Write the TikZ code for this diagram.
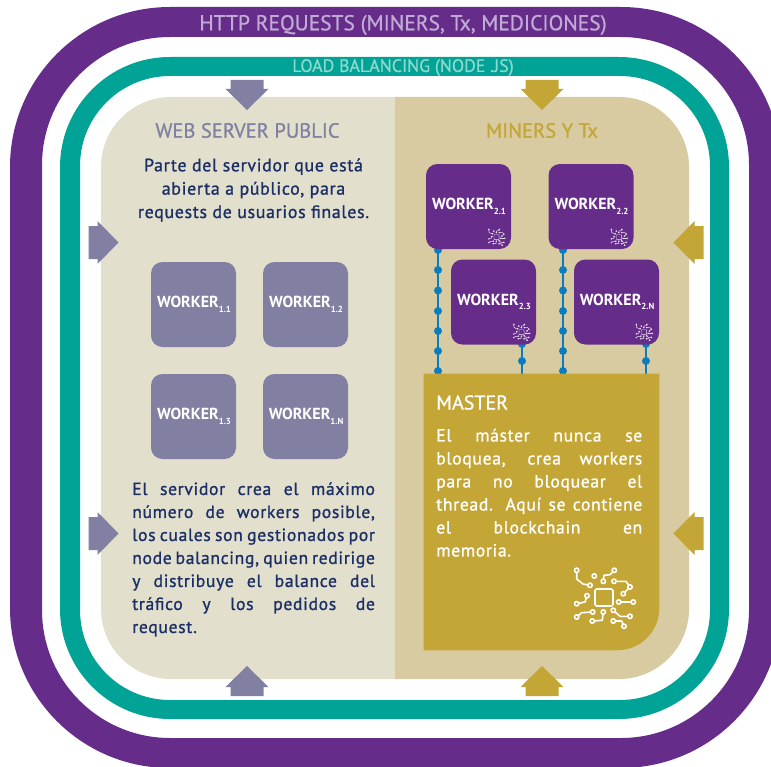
\documentclass[tikz,border=0pt]{standalone}
\usepackage{fontspec}
\setmainfont{PT Sans}
\newfontfamily\fbody[LetterSpace=3.8,FakeBold=1.1]{PT Sans}
\newfontfamily\ftitle[FakeBold=0.8]{PT Sans}
\definecolor{cPurple}{HTML}{652D89}
\definecolor{cTeal}{HTML}{00A396}
\definecolor{cSlate}{HTML}{8280A2}
\definecolor{cGold}{HTML}{C4A637}
\definecolor{cNavy}{HTML}{1B2F66}
\definecolor{cBlue}{HTML}{0A7DBE}
\definecolor{cLeft}{HTML}{E2DFCC}
\definecolor{cRight}{HTML}{D8CBA2}
\definecolor{cLilac}{HTML}{C2AAD6}
\definecolor{cMint}{HTML}{8FD8CE}
\pgfdeclarelayer{back}\pgfdeclarelayer{bus}
\pgfsetlayers{back,bus,main}
\newcommand\fsz[2]{\fontsize{#1}{#2}\selectfont}
\newcommand\wk[1]{\hspace*{0.8pt}{\bfseries WORKER}\raisebox{-3.4pt}{\fsz{6.6}{7}\bfseries #1}}
% justified line of given width
\newcommand\jl[2]{\makebox[#1][s]{#2}}
% arrows: centre, direction sign, colour
\newcommand\arrV[4]{\fill[#4] ({#1-16.5},{#2-15*#3}) -- ({#1+16.5},{#2-15*#3}) -- ({#1+16.5},{#2-6*#3}) -- ({#1+21.5},{#2-6*#3}) -- ({#1},{#2+15*#3}) -- ({#1-21.5},{#2-6*#3}) -- ({#1-16.5},{#2-6*#3}) -- cycle;}
\newcommand\arrH[4]{\fill[#4] ({#1-15*#3},{#2-16.5}) -- ({#1-15*#3},{#2+16.5}) -- ({#1-6*#3},{#2+16.5}) -- ({#1-6*#3},{#2+21.5}) -- ({#1+15*#3},{#2}) -- ({#1-6*#3},{#2-21.5}) -- ({#1-6*#3},{#2-16.5}) -- cycle;}
% chip icon: x, y, unit (pt per icon pixel), line width, colour, fill
\newcommand\chipicon[6]{%
\begin{scope}[shift={(#1,#2)},x=#3pt,y=-#3pt,draw=#5,line width=#4,line join=round,line cap=round]
\draw[rounded corners=#4] (-9,-8) rectangle (9,9);
\draw (-27.3,-26.7) -- (-27.3,-18) -- (-21,-13) -- (-14,-11.7);
\draw (10.3,-26.7) -- (6,-22.3) -- (0,-21.7) -- (-0.7,-15.7);
\draw (10,-15.7) -- (22,-15.7) -- (26,-10);
\draw (19.3,-3.3) -- (26,-10);
\draw (-17,-1.3) -- (-19,5) -- (-27.3,6.7);
\draw (14.7,5) -- (29.3,5);
\draw (-27.3,20) -- (-22.3,15.7) -- (-11.3,15);
\draw (-0.7,15) -- (-1.7,23.3) -- (-11.7,24);
\draw (9.3,13.3) -- (16,19.3) -- (26,19.3);
\draw (9.3,24) -- (17.7,24) -- (20,29.3);
\foreach \p in {(-27.3,-26.7),(-14,-11.7),(-9.7,-21),(10.3,-26.7),(-0.7,-15.7),(10,-15.7),(26,-10),(19.3,-3.3),(-17,-1.3),(-27.3,6.7),(14.7,5),(29.3,5),(-27.3,20),(-11.3,15),(-0.7,15),(-11.7,24),(9.3,13.3),(26,19.3),(9.3,24),(20,29.3)}
 \draw[fill=#6] \p circle[radius=2.2];
\end{scope}}
\tikzset{
 workerbox/.style={minimum width=63.75pt,minimum height=63.75pt,inner sep=0pt,rounded corners=8.5pt,text=white,font=\fsz{12}{14}},
 wslate/.style={workerbox,fill=cSlate},
 wpurple/.style={workerbox,fill=cPurple},
 band/.style={font=\ftitle\fsz{15.4}{18},inner sep=0pt},
 body/.style={inner sep=0pt,align=left,font=\fbody\fsz{13.2}{17.25}},
 busline/.style={cBlue,line width=2.2pt},
 busdot/.style={cBlue}
}
\begin{document}
\begin{tikzpicture}[x=0.75pt,y=-0.75pt]
\useasboundingbox (0,0) rectangle (771,767);
\clip (0,0) rectangle (771,767);
\begin{pgfonlayer}{back}
\fill[white] (0,0) rectangle (771,767);
\fill[cPurple,even odd rule,rounded corners=120pt] (10,7) rectangle (781,768)
  [rounded corners=96pt] (42,37) rectangle (749,738);
\fill[cTeal,even odd rule,rounded corners=82.5pt] (60,57) rectangle (729,719)
  [rounded corners=67.5pt] (80,76) rectangle (710,700);
\begin{scope}
\clip (101,97) rectangle (394.5,679);
\fill[cLeft,rounded corners=52.5pt] (101,97) rectangle (689,679);
\end{scope}
\begin{scope}
\clip (394.5,97) rectangle (689,679);
\fill[cRight,rounded corners=52.5pt] (101,97) rectangle (689,679);
\end{scope}
\end{pgfonlayer}

% band titles
\node[band,text=cLilac,font=\ftitle\fsz{16.1}{18}] (http) at (403,25) {HTTP REQUESTS (MINERS, Tx, MEDICIONES)};
\node[band,text=cMint,font=\ftitle\fsz{13.4}{14}] (lb) at (403,67.5) {LOAD BALANCING (NODE .JS)};

% arrows
\arrV{247}{95}{1}{cSlate}
\arrV{542}{95}{1}{cGold}
\arrV{247}{681}{-1}{cSlate}
\arrV{542}{681}{-1}{cGold}
\arrH{103.5}{242.5}{1}{cSlate}
\arrH{103.5}{533.5}{1}{cSlate}
\arrH{688.5}{242.5}{-1}{cGold}
\arrH{688.5}{533.5}{-1}{cGold}

% left panel
\node[band,text=cSlate] (webt) at (247.5,130.5) {WEB SERVER PUBLIC};
\node[inner sep=0pt,align=center,text=cNavy,font=\fbody\fsz{13.4}{17.5}] (webd) at (253.5,190) {Parte del servidor que está\\abierta a público, para\\requests de usuarios finales.};
\node[wslate] (w11) at (193.5,304.5) {\wk{1.1}};
\node[wslate] (w12) at (305.5,304.5) {\wk{1.2}};
\node[wslate] (w13) at (193.5,416.5) {\wk{1.3}};
\node[wslate] (w1n) at (305.5,416.5) {\wk{1.N}};
\node[body,text=cNavy,anchor=north west] (webb) at (132,482) {\jl{182pt}{El servidor crea el máximo}\\\jl{182pt}{número de workers posible,}\\\jl{182pt}{los cuales son gestionados por}\\\jl{182pt}{node balancing, quien redirige}\\\jl{182pt}{y distribuye el balance del}\\\jl{182pt}{tráfico y los pedidos de}\\request.};

% right panel
\node[band,text=cGold] (minerst) at (542,130.5) {MINERS Y Tx};
\node[wpurple] (w21) at (468.5,206.5) {\wk{2.1}};
\node[wpurple] (w22) at (591,206.5) {\wk{2.2}};
\node[wpurple] (w23) at (493.5,302) {\wk{2.3}};
\node[wpurple] (w2n) at (616.5,302) {\wk{2.N}};
\node[inner sep=0pt,minimum width=176.25pt,minimum height=207pt] (master) at (541.5,512) {};
\fill[cGold] (master.north west) -- (master.north east) [rounded corners=31.5pt] -- (master.south east) [sharp corners] -- (master.south west) -- cycle;
\coordinate (b1) at (438,300);
\coordinate (b2) at (563,300);
\coordinate (b3) at (522,300);
\coordinate (b4) at (646,300);
\begin{pgfonlayer}{bus}
\draw[busline] (w21.south -| b1) -- (master.north -| b1);
\draw[busline] (w22.south -| b2) -- (master.north -| b2);
\draw[busline] (w23.south -| b3) -- (master.north -| b3);
\draw[busline] (w2n.south -| b4) -- (master.north -| b4);
\foreach \y in {250,270,290.5,311,331,351,371}{
 \fill[busdot] (438,\y) circle[radius=4];
 \fill[busdot] (563,\y) circle[radius=4];}
\foreach \y in {344,361}{
 \fill[busdot] (522,\y) circle[radius=4];
 \fill[busdot] (646,\y) circle[radius=4];}
\end{pgfonlayer}
\node[anchor=base west,inner sep=0pt,text=white,font=\ftitle\fsz{15}{18}] (mastert) at (436,409.5) {MASTER};
\node[body,text=white,anchor=north west] (masterb) at (436,428.5) {\jl{154.5pt}{El máster nunca se}\\\jl{154.5pt}{bloquea, crea workers}\\\jl{154.5pt}{para no bloquear el}\\\jl{154.5pt}{thread. Aquí se contiene}\\\jl{154.5pt}{el blockchain en}\\memoria.};
\chipicon{604}{597}{0.75}{1.2pt}{white}{cGold}
\chipicon{496.5}{237}{0.21}{0.35pt}{white!85!cPurple}{cPurple}
\chipicon{619}{237}{0.21}{0.35pt}{white!85!cPurple}{cPurple}
\chipicon{521.5}{332}{0.21}{0.35pt}{white!85!cPurple}{cPurple}
\chipicon{644}{332}{0.21}{0.35pt}{white!85!cPurple}{cPurple}
\end{tikzpicture}
\end{document}
